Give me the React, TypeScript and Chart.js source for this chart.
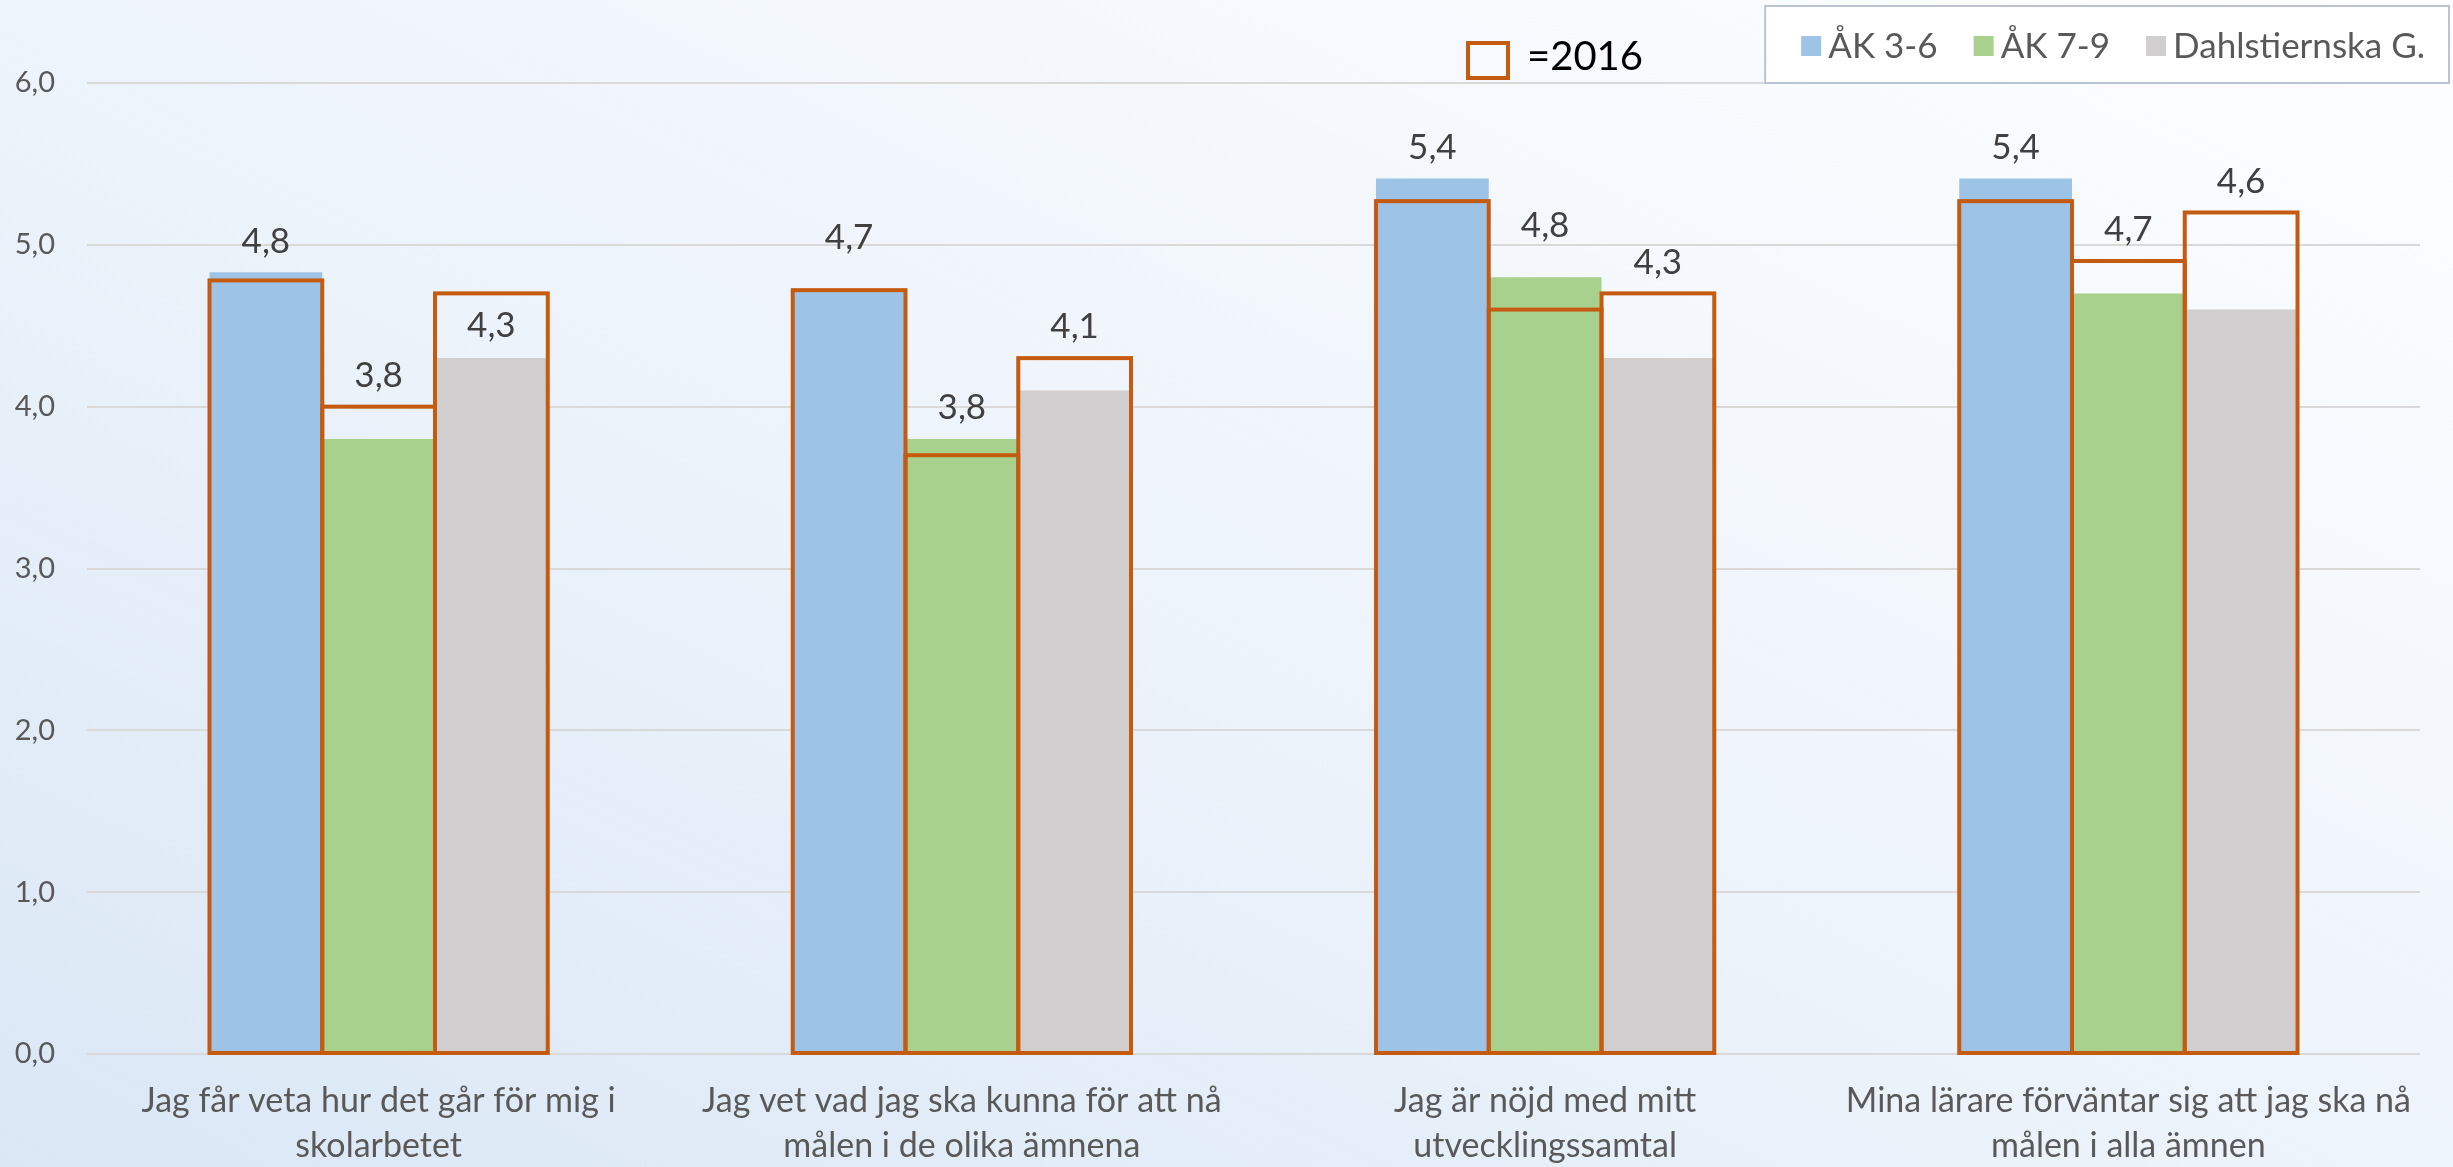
import { useEffect, useRef } from "react";
import { Chart, registerables } from "chart.js";

Chart.register(...registerables);

// ---- data ----
const categories: string[][] = [
  ["Jag får veta hur det går för mig i", "skolarbetet"],
  ["Jag vet vad jag ska kunna för att nå", "målen i de olika ämnena"],
  ["Jag är nöjd med mitt", "utvecklingssamtal"],
  ["Mina lärare förväntar sig att jag ska nå", "målen i alla ämnen"],
];
const seriesNames = ["ÅK 3-6", "ÅK 7-9", "Dahlstiernska G."];
const ak36 = [4.83, 4.72, 5.41, 5.41];
const ak79 = [3.8, 3.8, 4.8, 4.7];
const dahl = [4.3, 4.1, 4.3, 4.6];
const ak36_2016 = [4.78, 4.72, 5.27, 5.27];
const ak79_2016 = [4.0, 3.7, 4.6, 4.9];
const dahl_2016 = [4.7, 4.3, 4.7, 5.2];
const yTickValues = [0, 1, 2, 3, 4, 5, 6];
const outlineLegendText = "=2016";

// ---- style ----
const W = 2453;
const H = 1167;
const FONT = "Lato, 'Open Sans', sans-serif";
const BLUE = "#9dc3e6";
const GREEN = "#a9d18e";
const GRAY = "#d0cece";
const ORANGE = "#c55a11";
const fills = [BLUE, GREEN, GRAY];
const stackIds = ["s1", "s2", "s3"];
// per series, per category vertical nudge of value labels (px)
const labelNudge = [
  [0, -21, 0, 0],
  [0, 0, -20, 0],
  [63, 0, 0, 0],
];

const outlinePlugin = {
  id: "outline2016",
  afterDatasetsDraw(chart: any) {
    const ctx = chart.ctx;
    ctx.save();
    ctx.strokeStyle = ORANGE;
    ctx.lineWidth = 4;
    ctx.lineJoin = "miter";
    [3, 4, 5].forEach((di) => {
      const meta = chart.getDatasetMeta(di);
      meta.data.forEach((el: any) => {
        const { x, y, base, width } = el.getProps(["x", "y", "base", "width"], true);
        ctx.strokeRect(x - width / 2, y, width, base - y);
      });
    });
    ctx.restore();
  },
};

const labelPlugin = {
  id: "valueLabels",
  afterDatasetsDraw(chart: any) {
    const ctx = chart.ctx;
    ctx.save();
    ctx.font = `35px ${FONT}`;
    ctx.fillStyle = "#404040";
    ctx.textAlign = "center";
    ctx.textBaseline = "middle";
    [0, 1, 2].forEach((di) => {
      const meta = chart.getDatasetMeta(di);
      const metaOld = chart.getDatasetMeta(di + 3);
      meta.data.forEach((el: any, j: number) => {
        const old = metaOld.data[j];
        const top = Math.min(el.y, old.y);
        const v = chart.data.datasets[di].data[j] as number;
        ctx.fillText(v.toFixed(1).replace(".", ","), el.x, top - 31 + labelNudge[di][j]);
      });
    });
    ctx.restore();
  },
};

const legendPlugin = {
  id: "customLegend",
  afterDraw(chart: any) {
    const ctx = chart.ctx;
    ctx.save();
    // series legend box (top right)
    ctx.font = `35px ${FONT}`;
    const sq = 20;
    const gapSqText = 7;
    const gapItems = 36;
    const padL = 36;
    const padR = 24;
    const widths = seriesNames.map((n) => ctx.measureText(n).width);
    let total = padL + padR;
    widths.forEach((w, i) => {
      total += sq + gapSqText + w + (i < widths.length - 1 ? gapItems : 0);
    });
    const right = 2449;
    const boxTop = 6;
    const boxBottom = 83;
    const left = right - total;
    ctx.fillStyle = "#ffffff";
    ctx.fillRect(left, boxTop, total, boxBottom - boxTop);
    ctx.strokeStyle = "#b8c4d4";
    ctx.lineWidth = 2;
    ctx.strokeRect(left, boxTop, total, boxBottom - boxTop);
    const cy = 46;
    let x = left + padL;
    ctx.textBaseline = "middle";
    ctx.textAlign = "left";
    seriesNames.forEach((n, i) => {
      ctx.fillStyle = fills[i];
      ctx.fillRect(x, cy - sq / 2, sq, sq);
      x += sq + gapSqText;
      ctx.fillStyle = "#595959";
      ctx.fillText(n, x, cy + 1);
      x += widths[i] + gapItems;
    });

    // "=2016" annotation
    ctx.strokeStyle = ORANGE;
    ctx.lineWidth = 4;
    ctx.strokeRect(1468, 43, 40, 35);
    ctx.fillStyle = "#000000";
    ctx.font = `40px ${FONT}`;
    ctx.textBaseline = "middle";
    ctx.fillText(outlineLegendText, 1527, 57);
    ctx.restore();
  },
};

export default function App() {
  const ref = useRef<HTMLCanvasElement | null>(null);

  useEffect(() => {
    if (!ref.current) return;
    const barCommon = {
      categoryPercentage: 0.58,
      barPercentage: 1.0,
      borderWidth: 0,
    };
    const chart = new Chart(ref.current, {
      type: "bar",
      data: {
        labels: categories,
        datasets: [
          { label: seriesNames[0], data: ak36, backgroundColor: BLUE, order: 2, stack: stackIds[0], ...barCommon },
          { label: seriesNames[1], data: ak79, backgroundColor: GREEN, order: 2, stack: stackIds[1], ...barCommon },
          { label: seriesNames[2], data: dahl, backgroundColor: GRAY, order: 2, stack: stackIds[2], ...barCommon },
          { label: seriesNames[0] + " 2016", data: ak36_2016, backgroundColor: "rgba(0,0,0,0)", order: 1, stack: stackIds[0], ...barCommon },
          { label: seriesNames[1] + " 2016", data: ak79_2016, backgroundColor: "rgba(0,0,0,0)", order: 1, stack: stackIds[1], ...barCommon },
          { label: seriesNames[2] + " 2016", data: dahl_2016, backgroundColor: "rgba(0,0,0,0)", order: 1, stack: stackIds[2], ...barCommon },
        ],
      },
      options: {
        responsive: false,
        animation: false,
        layout: { padding: { top: 83, right: 33, left: 0, bottom: 0 } },
        plugins: {
          legend: { display: false },
          tooltip: { enabled: false },
        },
        scales: {
          x: {
            type: "category",
            stacked: true,
            offset: true,
            grid: { display: false, drawTicks: false },
            border: { display: false },
            ticks: {
              color: "#595959",
              font: { family: FONT, size: 34, lineHeight: 1.34 },
              padding: 24,
              maxRotation: 0,
              minRotation: 0,
              autoSkip: false,
            },
            afterFit: (s: any) => {
              s.height = 113;
            },
          },
          y: {
            min: 0,
            max: 6,
            stacked: false,
            afterBuildTicks: (s: any) => {
              s.ticks = yTickValues.map((v) => ({ value: v }));
            },
            grid: { color: "#d9d9d9", lineWidth: 2, drawTicks: false },
            border: { display: false },
            ticks: {
              color: "#595959",
              font: { family: FONT, size: 29 },
              padding: 32,
              callback: (v: any) => Number(v).toFixed(1).replace(".", ","),
            },
            afterFit: (s: any) => {
              s.width = 87;
            },
          },
        },
      },
      plugins: [outlinePlugin, labelPlugin, legendPlugin],
    } as any);
    return () => chart.destroy();
  }, []);

  return (
    <div
      style={{
        position: "fixed",
        left: 0,
        top: 0,
        width: W,
        height: H,
        background: "linear-gradient(to top right, #dae7f5 0%, #eef4fb 50%, #fdfeff 100%)",
      }}
    >
      <canvas ref={ref} width={W} height={H} style={{ display: "block", width: W, height: H }} />
    </div>
  );
}
